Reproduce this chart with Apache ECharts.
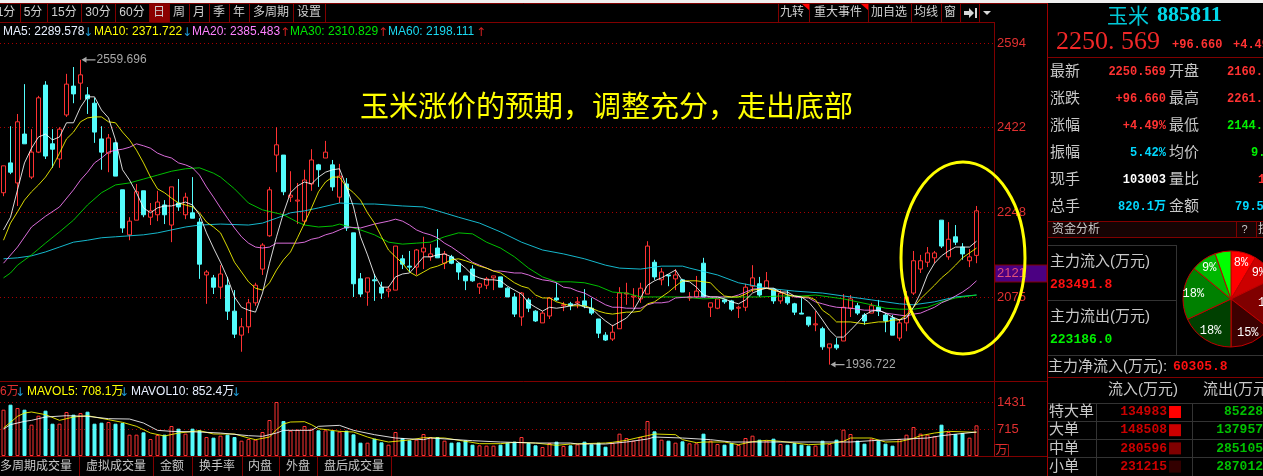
<!DOCTYPE html>
<html><head><meta charset="utf-8">
<style>html,body{margin:0;padding:0;background:#000;overflow:hidden}#c{width:1263px;height:476px}</style>
<script src="https://cdn.jsdelivr.net/npm/echarts@6/dist/echarts.min.js"></script>
</head><body><div id="c"></div>
<script>
const opens=[2288,2349,2308,2408,2320,2371,2508,2388,2357,2447,
2506,2512,2488,2471,2398,2369,2390,2294,2202,2232,
2292,2238,2243,2263,2222,2267,2243,2247,2228,2120,
2114,2095,2099,2046,1997,2014,2063,2132,2200,2365,
2365,2279,2271,2230,2306,2345,2359,2345,2279,2306,
2206,2112,2085,2110,2095,2087,2089,2153,2138,2136,
2167,2157,2175,2144,2157,2144,2118,2132,2095,2099,
2114,2116,2093,2075,2034,2069,2046,2022,2036,2073,
2057,2061,2063,2067,2052,2030,1997,1989,2010,2081,
2075,2071,2081,2146,2110,2120,2112,2110,2073,2075,
2144,2054,2052,2069,2067,2052,2054,2097,2102,2093,
2091,2067,2075,2061,2042,2034,2018,2010,1971,1977,
1985,2052,2057,2038,2042,2054,2038,2032,1991,2022,
2083,2132,2146,2155,2232,2157,2198,2177,2149,2160];
const closes=[2343,2330,2433,2388,2371,2482,2363,2377,2418,2510,
2490,2529,2480,2412,2371,2400,2322,2216,2230,2290,
2243,2251,2269,2243,2300,2259,2279,2236,2142,2126,
2095,2122,2046,1999,2014,2063,2099,2181,2294,2386,
2290,2283,2273,2314,2355,2335,2371,2300,2322,2216,
2102,2081,2114,2108,2083,2091,2179,2142,2136,2171,
2175,2163,2155,2163,2144,2126,2108,2108,2102,2112,
2118,2095,2075,2040,2083,2052,2026,2042,2073,2069,
2059,2057,2065,2057,2042,2001,1987,2003,2083,2083,
2077,2093,2179,2116,2126,2118,2120,2085,2075,2087,
2075,2063,2071,2065,2050,2054,2095,2114,2079,2108,
2067,2083,2063,2044,2040,2018,2020,1973,1979,1971,
2054,2071,2042,2026,2057,2046,2026,1997,2022,2075,
2149,2149,2165,2165,2179,2193,2187,2163,2157,2251];
const highs=[2343,2424,2449,2510,2418,2486,2516,2418,2422,2531,
2545,2559.696,2504,2482,2424,2408,2392,2294,2238,2306,
2292,2267,2292,2273,2300,2316,2288,2320,2236,2130,
2120,2140,2116,2089,2032,2071,2104,2185,2300,2422,
2365,2332,2308,2335,2377,2347,2394,2355,2347,2318,
2206,2124,2114,2122,2106,2097,2179,2161,2169,2173,
2198,2183,2214,2169,2161,2146,2118,2140,2104,2116,
2118,2116,2095,2083,2085,2073,2048,2046,2075,2104,
2065,2065,2075,2091,2073,2030,2003,2018,2095,2104,
2093,2104,2189,2151,2134,2120,2132,2112,2085,2118,
2155,2063,2071,2071,2069,2057,2102,2140,2116,2126,
2093,2089,2089,2063,2073,2034,2046,2014,1979,1991,
2081,2079,2063,2042,2063,2069,2042,2038,2030,2087,
2169,2161,2177,2169,2232,2228,2222,2185,2173,2261];
const lows=[2281,2326,2261,2388,2316,2369,2357,2339,2339,2443,
2471,2478,2449,2390,2335,2330,2322,2206,2191,2232,
2238,2222,2230,2224,2187,2251,2234,2236,2112,2061,
2081,2071,2028,1991,1963,2001,2057,2120,2198,2330,
2283,2269,2224,2222,2292,2300,2359,2292,2267,2210,
2075,2075,2057,2067,2071,2075,2089,2132,2126,2120,
2132,2149,2155,2132,2142,2110,2089,2106,2081,2091,
2089,2095,2075,2034,2016,2044,2024,2022,2030,2067,
2046,2048,2052,2052,2038,1991,1985,1985,2010,2059,
2054,2063,2081,2110,2099,2097,2089,2085,2067,2073,
2075,2034,2050,2061,2046,2032,2046,2085,2075,2093,
2061,2061,2059,2038,2040,2014,2005,1967,1936.722,1967,
1985,2034,2038,2018,2042,2036,2003,1997,1985,2005,
2079,2124,2136,2144,2175,2151,2181,2151,2136,2144];
const volumes=[1227,1360,1271,1227,830,1068,1201,856,856,1166,
1095,1139,1174,856,883,901,856,874,565,565,
627,450,556,565,795,724,592,724,680,503,
486,539,565,503,406,450,433,636,954,1431,
927,671,698,795,724,680,680,671,645,671,
574,353,353,459,362,300,636,477,415,433,
583,503,503,406,353,362,415,300,283,274,
274,300,353,380,503,344,283,238,344,380,
265,283,309,380,309,353,247,344,592,477,
406,503,927,653,433,406,353,389,336,336,
592,406,318,300,344,291,477,539,433,406,
459,318,300,344,300,274,274,406,318,433,
698,583,406,327,459,406,327,274,450,565,
768,592,565,521,830,636,583,610,486,812];
const ma5=[2212,2238,2294,2349,2379,2402,2408,2396,2402,2431,2431,2463,2484,2484,2457,2441,2396,2335,2314,2288,
2257,2247,2257,2261,2261,2265,2269,2263,2243,2206,2175,2146,2114,2075,2054,2048,2044,2083,2144,2198,
2247,2288,2302,2310,2306,2320,2330,2335,2337,2300,2259,2198,2161,2120,2095,2095,2116,2122,2124,2140,
2157,2157,2161,2163,2157,2146,2134,2120,2114,2110,2110,2108,2097,2089,2081,2063,2054,2046,2054,2052,
2054,2057,2061,2054,2052,2038,2026,2016,2024,2032,2048,2073,2099,2108,2114,2122,2130,2108,2106,2095,
2079,2075,2075,2071,2065,2061,2069,2083,2089,2093,2093,2085,2085,2077,2075,2065,2048,2028,2007,1993,
1993,2007,2022,2038,2046,2048,2042,2034,2028,2032,2054,2083,2120,2144,2159,2169,2177,2177,2177,2189];
const ma10=[2191,2226,2249,2273,2290,2304,2320,2341,2369,2398,2412,2433,2441,2443,2443,2433,2431,2412,2396,2375,
2349,2320,2296,2288,2277,2267,2263,2259,2247,2228,2218,2206,2177,2146,2126,2106,2093,2089,2104,2130,
2151,2167,2196,2226,2257,2290,2310,2320,2320,2300,2288,2273,2247,2226,2198,2171,2157,2144,2126,2118,
2126,2134,2138,2144,2151,2153,2149,2144,2138,2134,2128,2124,2114,2104,2097,2093,2079,2073,2073,2065,
2061,2057,2057,2057,2052,2046,2042,2040,2042,2044,2044,2046,2061,2065,2075,2085,2097,2108,2108,2108,
2106,2104,2089,2077,2075,2075,2081,2089,2091,2093,2089,2085,2079,2077,2075,2075,2069,2048,2038,2024,
2024,2024,2022,2020,2022,2024,2024,2028,2028,2038,2054,2071,2085,2099,2114,2126,2140,2155,2165,2175];
const ma20=[[0,2144],[2,2177],[4,2218],[6,2240],[8,2259],[10,2294],[11,2314],[12,2330],[13,2349],[14,2359],[15,2371],[16,2375],[17,2377],[18,2381],[19,2388],[20,2384],[21,2379],[22,2369],[23,2363],[24,2359],[25,2349],[26,2345],[27,2339],[28,2324],[29,2300],[30,2279],[31,2257],[32,2236],[33,2216],[34,2198],[35,2185],[36,2177],[37,2175],[38,2177],[39,2185],[42,2185],[43,2187],[44,2193],[45,2196],[46,2202],[47,2206],[48,2212],[49,2218],[51,2216],[53,2224],[55,2230],[56,2234],[57,2230],[58,2222],[59,2212],[60,2206],[61,2202],[62,2196],[63,2185],[64,2177],[65,2167],[66,2157],[67,2146],[68,2140],[69,2134],[70,2128],[71,2128],[72,2126],[73,2124],[74,2124],[75,2120],[76,2114],[77,2110],[78,2108],[79,2104],[80,2095],[81,2093],[82,2087],[83,2083],[84,2075],[85,2067],[86,2059],[87,2054],[88,2054],[89,2052],[91,2052],[92,2059],[93,2063],[94,2063],[95,2065],[96,2073],[98,2075],[102,2075],[104,2075],[105,2079],[106,2085],[107,2091],[109,2093],[110,2089],[111,2085],[113,2075],[115,2073],[116,2065],[117,2061],[118,2057],[119,2054],[121,2052],[123,2048],[125,2048],[126,2042],[128,2038],[129,2036],[130,2040],[131,2042],[132,2048],[133,2054],[134,2063],[135,2069],[136,2077],[137,2085],[138,2095],[139,2108]];
const ma30=[[0,2114],[1,2124],[2,2140],[4,2161],[6,2185],[8,2208],[10,2232],[12,2263],[14,2288],[16,2304],[18,2308],[20,2316],[22,2324],[24,2332],[26,2337],[28,2339],[30,2328],[31,2320],[32,2308],[33,2296],[35,2267],[37,2253],[40,2243],[42,2228],[43,2222],[45,2218],[47,2220],[48,2224],[49,2220],[51,2212],[53,2202],[55,2187],[57,2183],[59,2185],[61,2187],[63,2198],[65,2206],[67,2204],[69,2187],[71,2175],[73,2157],[75,2134],[77,2116],[79,2106],[81,2106],[83,2104],[85,2097],[87,2085],[89,2083],[91,2075],[97,2075],[100,2071],[103,2073],[105,2075],[108,2075],[111,2077],[114,2077],[116,2079],[118,2075],[120,2071],[122,2065],[124,2059],[126,2052],[128,2050],[130,2050],[132,2054],[134,2065],[136,2073],[138,2077],[139,2079]];
const ma60=[[0,2153],[2,2155],[4,2159],[6,2167],[8,2177],[10,2187],[12,2191],[14,2196],[16,2198],[20,2202],[22,2206],[24,2212],[26,2218],[28,2222],[31,2224],[35,2222],[37,2226],[39,2236],[41,2247],[43,2251],[45,2257],[48,2267],[51,2265],[53,2265],[57,2261],[60,2259],[62,2251],[65,2238],[68,2226],[71,2208],[74,2187],[77,2171],[80,2163],[83,2153],[86,2140],[88,2134],[91,2132],[94,2138],[97,2138],[98,2134],[102,2120],[105,2104],[109,2093],[113,2087],[117,2083],[120,2077],[124,2069],[128,2061],[130,2059],[133,2065],[136,2075],[139,2079]];
const mavol5=[[0,742],[1,892],[2,1051],[3,1139],[4,1166],[6,1095],[8,945],[10,1033],[12,1068],[15,962],[17,892],[19,786],[21,609],[23,530],[25,609],[28,671],[30,583],[33,583],[35,477],[36,433],[38,503],[39,698],[40,848],[41,901],[43,909],[44,830],[45,724],[48,653],[50,636],[52,503],[53,450],[55,371],[58,424],[60,486],[63,477],[66,389],[68,327],[71,327],[73,362],[76,344],[79,283],[81,318],[86,344],[87,362],[89,415],[91,503],[92,539],[93,583],[96,565],[97,433],[99,353],[100,371],[103,371],[105,300],[107,380],[109,415],[111,389],[115,300],[118,327],[120,389],[121,477],[124,477],[126,371],[128,380],[130,468],[131,539],[133,609],[135,653],[139,627]];
const mavol10=[[0,715],[1,830],[3,918],[4,945],[6,1033],[9,1068],[12,1051],[15,989],[18,980],[20,874],[22,680],[24,653],[28,636],[31,609],[35,539],[37,521],[39,609],[40,680],[44,680],[45,786],[48,812],[50,680],[53,565],[56,477],[60,433],[61,477],[67,406],[71,371],[76,344],[81,344],[82,318],[86,318],[89,371],[92,450],[93,503],[97,477],[101,433],[104,371],[106,371],[121,371],[124,406],[129,450],[132,477],[134,539],[139,636]];
const priceTicks=[2594,2422,2248,2075];
const volTicks=[1431,715];
const priceHigh=2559.696, priceLow=1936.722;
const flowIn=[134983,148508,280596,231215];
const flowOut=[85228,137957,285105,287012];
const flowNames=['特大单','大单','中单','小单'];

const RED='#ff3232', CYAN='#54fcfc', DARK='#800000', DOT='#a80000';
const CJK='"Liberation Sans","Noto Sans CJK SC",sans-serif';
const MONO='"Liberation Mono","Noto Sans CJK SC",monospace';
const SLOTS=142;
const cats=Array.from({length:SLOTS},(_,i)=>String(i));
const sparse=p=>{const a=Array(opens.length).fill(null);p.forEach(([i,v])=>a[i]=v);return a;};
const line=(name,data,color,xi,yi)=>({name,type:'line',data,xAxisIndex:xi,yAxisIndex:yi,symbol:'none',connectNulls:true,animation:false,silent:true,z:5,lineStyle:{color,width:0.85}});
const arrow='path://M0,3 L5,0 L5,2.4 L14,2.4 L14,3.6 L5,3.6 L5,6 Z';
const extreme=(v,i)=>({coord:[i,v],symbol:arrow,symbolSize:[14,6],symbolOffset:[8,0],itemStyle:{color:'#a8a8a8'},label:{show:true,position:'right',distance:1,formatter:v.toFixed(3),color:'#a8a8a8',fontSize:12,fontFamily:CJK}});
const dots=vals=>({silent:true,symbol:'none',animation:false,z:2,label:{show:false},lineStyle:{color:DOT,type:[1,3],width:1,opacity:1},emphasis:{disabled:true},data:vals.map(v=>({yAxis:v}))});

const g=[];
const T=(x,y,text,fill,size,o={})=>g.push({type:'text',silent:true,z:o.z||10,style:{x,y,text,fill,font:`${o.bold?'bold ':''}${size}px ${o.font||CJK}`,textAlign:o.align||'left',textVerticalAlign:'middle'}});
const L=(x1,y1,x2,y2,c=DARK,z=8)=>g.push({type:'line',silent:true,z,shape:{x1,y1,x2,y2},style:{stroke:c,lineWidth:1}});
const R=(x,y,w,h,fill,stroke,z=2)=>g.push({type:'rect',silent:true,z,shape:{x,y,width:w,height:h},style:{fill,stroke:stroke||null,lineWidth:1}});

// top strip and tab bars
R(0,0,1263,3,'#efefef');
L(0,3.5,1047,3.5);L(0,22.5,994,22.5);
R(149,4,20,18,'#8b0000');
[20,47,81,115,149,169,189,209,229,249,293,325,778,809,868,911,941,960,979].forEach(x=>L(x+.5,4,x+.5,22));
[['1分',6],['5分',33],['15分',64],['30分',98],['60分',132],['日',159],['周',179],['月',199],['季',219],['年',239],['多周期',271],['设置',309],
 ['九转',792],['重大事件',838],['加自选',889],['均线',926],['窗',950]].forEach(([t,x])=>T(x,13,t,'#d0d0d0',12,{align:'center'}));
g.push({type:'polygon',silent:true,z:9,shape:{points:[[802,4],[809,4],[809,10]]},style:{fill:'#ff0000'}});
g.push({type:'polygon',silent:true,z:9,shape:{points:[[861,4],[868,4],[868,10]]},style:{fill:'#ff0000'}});
g.push({type:'polygon',silent:true,z:9,shape:{points:[[964,11],[969,11],[969,8],[974,13],[969,18],[969,15],[964,15]]},style:{fill:'#d8d8d8'}});
R(975,8,2,10,'#d8d8d8',null,9);
g.push({type:'polygon',silent:true,z:9,shape:{points:[[983,11],[991,11],[987,15]]},style:{fill:'#d8d8d8'}});

// moving average legend
[['MA5: 2289.578',3,'#e8f0ff','↓',83,'#1e9bd7'],['MA10: 2371.722',94,'#ffff00','↓',182,'#1e9bd7'],['MA20: 2385.483',192,'#ff80ff','↑',280,'#d02020'],['MA30: 2310.829',290,'#00e600','↑',378,'#d02020'],['MA60: 2198.111',388,'#19d8f0','↑',476,'#d02020']]
.forEach(([t,x,c,a,ax,ac])=>{T(x,32,t,c,12);T(ax,33,a,ac,12,{font:'"DejaVu Sans"'});});

// title
T(360,106,'玉米涨价的预期，调整充分，走出底部','#ffff00',29,{font:'"Noto Sans CJK SC"',z:20});

// axis frame
L(994.5,22,994.5,456);L(0,381.5,1047,381.5);L(0,456.5,1047,456.5);
L(1047.5,3,1047.5,476,'#a00000');
R(995,265,52,17,'#4b0082',DARK,3);
T(997,273.5,'2121','#e0507a',13);
g.push({type:'ellipse',silent:true,z:30,shape:{cx:963,cy:258,rx:62,ry:96},style:{fill:null,stroke:'#ffff00',lineWidth:3}});
R(994.5,444.5,14,12,null,'#a01010',9);
T(1001.5,450.5,'万','#e03030',12,{align:'center'});

// volume legend
T(0,392,'6万','#e03030',12);T(15,393,'↓','#1e9bd7',12,{font:'"DejaVu Sans"'});
T(27,392,'MAVOL5: 708.1万','#ffff00',12);T(119,393,'↓','#1e9bd7',12,{font:'"DejaVu Sans"'});
T(131,392,'MAVOL10: 852.4万','#e8f0ff',12);T(231,393,'↓','#1e9bd7',12,{font:'"DejaVu Sans"'});

// bottom tabs
[79,153,192,242,279,317,391].forEach(x=>L(x+.5,457,x+.5,476));
[['多周期成交量',36],['虚拟成交量',116],['金额',172],['换手率',217],['内盘',260],['外盘',298],['盘后成交量',354]].forEach(([t,x])=>T(x,467,t,'#c8c8c8',12,{align:'center'}));

// right panel: quote
T(1107,15,'玉米','#00c8d8',21,{font:'"Noto Sans CJK SC"'});
T(1157,15,'885811','#00d8e8',22,{font:'"Liberation Serif"',bold:true});
T(1056,42,'2250. 569','#f02828',26,{font:'"Liberation Serif"'});
T(1172,45,'+96.660',RED,12,{font:MONO,bold:true});
T(1233,45,'+4.49%',RED,12,{font:MONO,bold:true});
L(1048,57.5,1263,57.5);
const rows=[['最新','2250.569',RED,'开盘','2160.',RED,1227],['涨跌','+96.660',RED,'最高','2261.',RED,1227],['涨幅','+4.49%',RED,'最低','2144.','#00f000',1227],['振幅','5.42%','#00d8ff','均价','9.','#00f000',1251],['现手','103003','#ffffff','量比','1',RED,1258],['总手','820.1万','#00d8ff','金额','79.5','#00d8ff',1235]];
rows.forEach((r,i)=>{const y=72+i*27;
 T(1050,y,r[0],'#c8c8c8',15);T(1166,y,r[1],r[2],12,{font:MONO,bold:true,align:'right'});
 T(1169,y,r[3],'#c8c8c8',15);T(r[6],y,r[4],r[5],12,{font:MONO,bold:true});});
L(1048,221.5,1263,221.5);R(1048,222,215,15,'#160404');
T(1052,230,'资金分析','#c8c8c8',12);L(1236.5,222,1236.5,237);L(1256.5,222,1256.5,237);
T(1244.5,230,'?','#c8c8c8',11,{align:'center'});T(1258,230,'技','#c8c8c8',12);
L(1048,237.5,1263,237.5);

// right panel: funds
const GR='#333333';
L(1048,245.5,1176.5,245.5,GR);L(1048,300.5,1176.5,300.5,GR);L(1048,355.5,1263,355.5,GR);L(1176.5,245,1176.5,355,GR);
T(1050,262,'主力流入(万元)','#c8c8c8',15);T(1050,285,'283491.8','#ff1010',13,{font:MONO,bold:true});
T(1050,317,'主力流出(万元)','#c8c8c8',15);T(1050,340,'223186.0','#00f000',13,{font:MONO,bold:true});
T(1048,367,'主力净流入(万元):','#c8c8c8',15);T(1173,367,'60305.8','#ff1010',13,{font:MONO,bold:true});
L(1048,377.5,1263,377.5);
T(1143,390,'流入(万元)','#c8c8c8',15,{align:'center'});T(1203,390,'流出(万元)','#c8c8c8',15);
[403,421,439,457].forEach(y=>L(1048,y+.5,1263,y+.5,GR));
L(1096.5,403,1096.5,476,GR);L(1192.5,403,1192.5,476,GR);
const sq=['#ff0000','#cc0000','#800000','#330000'];
flowNames.forEach((n,i)=>{const y=412+i*18.2;
 T(1049,y,n,'#c8c8c8',15);T(1167,y,String(flowIn[i]),'#cc0000',13,{font:MONO,bold:true,align:'right'});
 R(1169,y-6,12,12,sq[i],null,9);T(1263,y,String(flowOut[i]),'#00c000',13,{font:MONO,bold:true,align:'right'});});

const pieColors=['#ff0000','#cc0000','#800000','#3c0000','#004000','#008000','#00b800','#00ff00'];
const pieVals=[flowIn[0],flowIn[1],flowIn[2],flowIn[3],flowOut[3],flowOut[2],flowOut[1],flowOut[0]];

const chart=echarts.init(document.getElementById('c'),null,{renderer:'canvas',width:1263,height:476});
chart.setOption({
 animation:false,backgroundColor:'#000',
 textStyle:{fontFamily:CJK},
 grid:[{left:0,top:24,width:994,height:358,containLabel:false},{left:0,top:402,width:994,height:54,containLabel:false}],
 xAxis:[0,1].map(i=>({type:'category',gridIndex:i,data:cats,boundaryGap:true,show:false})),
 yAxis:[
  {type:'value',gridIndex:0,position:'right',min:1901.2,max:2632.9,splitLine:{show:false},axisLine:{show:false},axisTick:{show:false},
   axisLabel:{show:true,customValues:priceTicks,formatter:v=>String(v),margin:3,color:'#e03030',fontSize:13,fontFamily:CJK}},
  {type:'value',gridIndex:1,position:'right',min:0,max:1431,splitLine:{show:false},axisLine:{show:false},axisTick:{show:false},
   axisLabel:{show:true,customValues:volTicks,formatter:v=>String(v),margin:3,color:'#e03030',fontSize:13,fontFamily:CJK}}
 ],
 graphic:{elements:g},
 series:[
  {name:'K',type:'candlestick',xAxisIndex:0,yAxisIndex:0,barWidth:4,large:false,silent:true,z:3,
   data:opens.map((o,i)=>[o,closes[i],lows[i],highs[i]]),
   itemStyle:{color:'transparent',color0:CYAN,borderColor:RED,borderColor0:CYAN,borderWidth:1},
   markLine:dots(priceTicks),
   markPoint:{silent:true,animation:false,data:[extreme(priceHigh,highs.indexOf(priceHigh)),extreme(priceLow,lows.indexOf(priceLow))]}},
  line('MA60',sparse(ma60),'#19d8f0',0,0),
  line('MA30',sparse(ma30),'#00e000',0,0),
  line('MA20',sparse(ma20),'#ff80ff',0,0),
  line('MA10',ma10,'#ffff00',0,0),
  line('MA5',ma5,'#ffffff',0,0),
  {name:'VOL',type:'bar',xAxisIndex:1,yAxisIndex:1,barWidth:4,silent:true,z:3,
   data:volumes.map((v,i)=>({value:v,itemStyle:closes[i]>=opens[i]?{color:'transparent',borderColor:RED,borderWidth:1}:{color:CYAN,borderColor:CYAN,borderWidth:1}})),
   markLine:dots(volTicks)},
  line('MAVOL5',sparse(mavol5),'#ffff00',1,1),
  line('MAVOL10',sparse(mavol10),'#ffffff',1,1),
  {type:'pie',center:[1231,299],radius:48,startAngle:90,silent:true,animation:false,z:6,
   data:pieVals.map((v,i)=>({value:v,itemStyle:{color:pieColors[i]}})),
   itemStyle:{borderColor:'#c00000',borderWidth:1},label:{show:false},labelLine:{show:false}},
  {type:'pie',center:[1231,299],radius:[22,48],startAngle:90,silent:true,animation:false,z:7,percentPrecision:0,
   data:pieVals.map((v,i)=>({value:v,itemStyle:{color:'transparent'},label:{show:i<7}})),
   itemStyle:{borderWidth:0},label:{position:'inside',formatter:'{d}%',color:'#ffffff',fontSize:12,fontFamily:MONO},labelLine:{show:false}}
 ]
});
</script></body></html>
